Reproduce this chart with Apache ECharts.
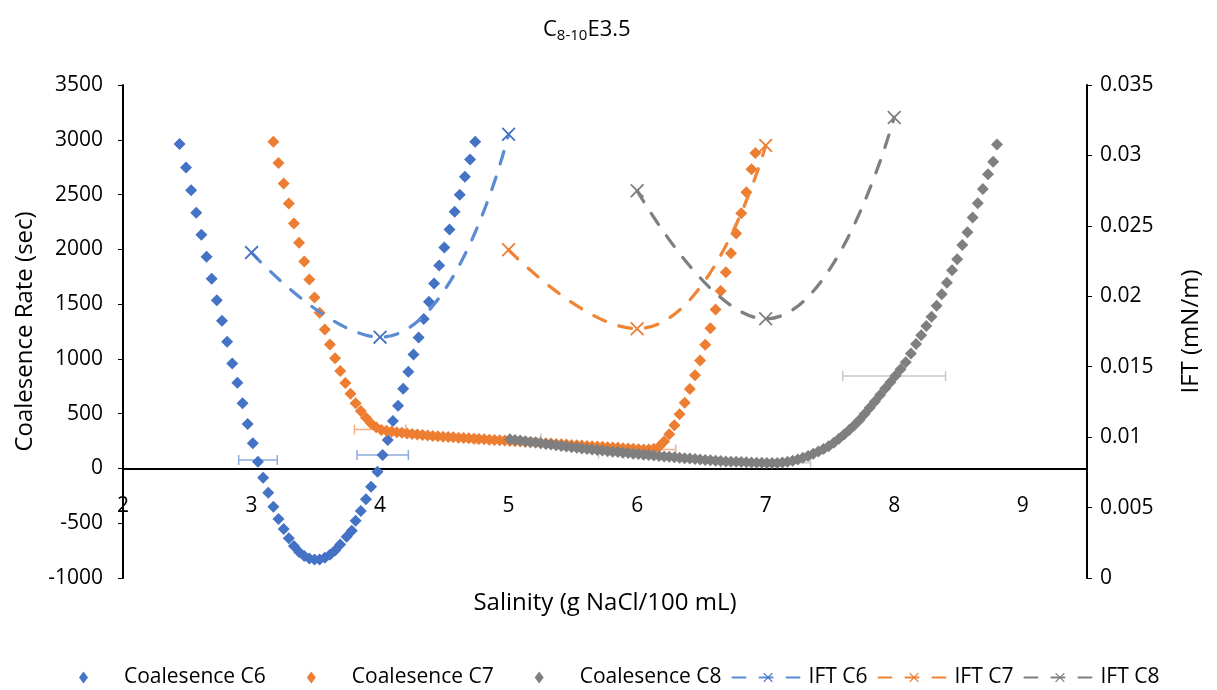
<!DOCTYPE html>
<html>
<head>
<meta charset="utf-8">
<script src="https://cdn.jsdelivr.net/npm/echarts@6/dist/echarts.min.js"></script>
<style>
html,body{margin:0;padding:0;background:#fff;}
#chart{width:1217px;height:690px;}
</style>
</head>
<body>
<div id="chart"></div>
<script>
// ---- Data ----
const xTicks = [2, 3, 4, 5, 6, 7, 8, 9];

const c6X = [2.44,2.49,2.53,2.57,2.61,2.65,2.69,2.73,2.77,2.81,2.85,2.89,2.93,2.97,3.01,3.05,3.09,3.13,3.17,3.21,3.25,3.29,3.33,3.37,3.41,3.45,3.49,3.53,3.57,3.61,3.65,3.69,3.74,3.78,3.81,3.85,3.89,3.93,3.98,4.02,4.06,4.10,4.14,4.18,4.22,4.26,4.30,4.34,4.38,4.42,4.46,4.50,4.54,4.58,4.62,4.66,4.70,4.74];
const c6Y = [2961,2747,2540,2333,2132,1932,1731,1536,1349,1156,959,782,594,405,229,61,-85,-222,-349,-462,-553,-638,-708,-762,-800,-823,-832,-830,-815,-788,-748,-695,-623,-568,-477,-389,-282,-167,-30,122,259,432,572,727,882,1041,1196,1365,1521,1689,1853,2017,2182,2342,2499,2662,2820,2981];

const c7X = [3.17,3.21,3.25,3.29,3.33,3.37,3.41,3.45,3.49,3.53,3.57,3.61,3.65,3.69,3.73,3.77,3.81,3.85,3.89,3.93,3.97,4.01,4.05,4.09,4.13,4.17,4.21,4.25,4.29,4.33,4.37,4.41,4.45,4.49,4.53,4.57,4.61,4.65,4.69,4.73,4.77,4.81,4.85,4.89,4.93,4.97,5.01,5.05,5.09,5.13,5.17,5.21,5.25,5.29,5.33,5.37,5.41,5.45,5.49,5.53,5.57,5.61,5.65,5.69,5.73,5.77,5.81,5.85,5.89,5.93,5.97,6.01,6.05,6.09,6.13,6.17,6.21,6.25,6.29,6.33,6.37,6.41,6.45,6.49,6.53,6.57,6.61,6.65,6.69,6.73,6.77,6.81,6.85,6.89,6.92];
const c7Y = [2981,2789,2601,2419,2236,2059,1889,1725,1561,1421,1269,1132,1005,889,779,682,594,524,463,411,375,352,343,337,331,325,320,315,310,305,301,297,293,290,287,284,281,278,275,272,269,266,263,260,257,254,251,248,245,242,239,236,233,230,227,224,221,218,215,212,209,206,203,200,197,194,191,188,185,182,179,176,174,174,180,198,245,312,395,495,600,725,850,985,1130,1280,1450,1620,1790,1965,2145,2330,2520,2730,2880];

const c8X = [5.01,5.05,5.09,5.13,5.17,5.21,5.25,5.29,5.33,5.37,5.41,5.45,5.49,5.53,5.57,5.61,5.65,5.69,5.73,5.77,5.81,5.85,5.89,5.93,5.97,6.01,6.05,6.09,6.13,6.17,6.21,6.25,6.29,6.33,6.37,6.41,6.45,6.49,6.53,6.57,6.61,6.65,6.69,6.73,6.77,6.81,6.85,6.89,6.93,6.97,7.01,7.05,7.09,7.13,7.17,7.21,7.25,7.29,7.33,7.37,7.41,7.45,7.49,7.53,7.57,7.61,7.65,7.69,7.73,7.77,7.81,7.85,7.89,7.93,7.97,8.01,8.05,8.09,8.13,8.17,8.21,8.25,8.29,8.33,8.37,8.41,8.45,8.49,8.53,8.57,8.61,8.65,8.69,8.73,8.77,8.80];
const c8Y = [266,260,254,248,242,236,230,224,218,212,206,200,194,188,183,178,173,168,163,158,153,149,144,140,135,131,126,122,118,114,110,106,102,98,94,90,86,82,78,74,70,67,64,62,60,58,56,54,52,51,50,50,50,54,61,70,82,97,114,133,155,178,202,235,270,309,350,394,443,497,553,611,670,729,787,845,905,970,1050,1135,1215,1300,1385,1485,1590,1695,1810,1910,2040,2155,2290,2420,2550,2685,2800,2957];

const iftC6X = [3, 4, 5];
const iftC6Y = [0.0231, 0.0171, 0.0315];
const iftC7X = [5, 6, 7];
const iftC7Y = [0.0233, 0.0177, 0.0307];
const iftC8X = [6, 7, 8];
const iftC8Y = [0.0275, 0.0184, 0.0327];

// horizontal error bars (x, y, +/- half width)
const errC6X = [3.05, 4.02];
const errC6Y = [77, 122];
const errC6E = [0.15, 0.2];
const errC7X = [4, 5, 6];
const errC7Y = [355, 262, 172];
const errC7E = [0.2, 0.25, 0.3];
const errC8X = [5, 6, 7, 8];
const errC8Y = [275, 135, 52, 843];
const errC8E = [0.25, 0.3, 0.35, 0.4];

const seriesNames = ['Coalesence C6','Coalesence C7','Coalesence C8','IFT C6','IFT C7','IFT C8'];

// ---- Chart ----
const zip = (a, b) => a.map((v, i) => [v, b[i]]);
const FONT = 'Open Sans';
const XSYM = 'path://M0,0.9L0.9,0L10,9.1L9.1,10Z M9.1,0L10,0.9L0.9,10L0,9.1Z';
// legend icon: small diamond centred in a wide (71x12) icon box
const DLEG = 'path://M35.5,0L40,6L35.5,12L31,6Z M0,6L0.001,6L0,6.001Z M71,6L70.999,6L71,6.001Z';

function errSeries(xs, ys, es, color) {
  return {
    type: 'custom', yAxisIndex: 0, silent: true, z: 1,
    encode: { x: 0, y: 1 },
    data: xs.map((x, i) => [x, ys[i], es[i]]),
    renderItem: function (params, api) {
      const x = api.value(0), y = api.value(1), e = api.value(2);
      const p1 = api.coord([x - e, y]);
      const p2 = api.coord([x + e, y]);
      const h = 5;
      const st = { stroke: color, lineWidth: 1.5, fill: null };
      return {
        type: 'group',
        children: [
          { type: 'line', shape: { x1: p1[0], y1: p1[1], x2: p2[0], y2: p2[1] }, style: st },
          { type: 'line', shape: { x1: p1[0], y1: p1[1] - h, x2: p1[0], y2: p1[1] + h }, style: st },
          { type: 'line', shape: { x1: p2[0], y1: p2[1] - h, x2: p2[0], y2: p2[1] + h }, style: st }
        ]
      };
    }
  };
}

function scatter(name, xs, ys, color) {
  return {
    name: name, type: 'scatter', yAxisIndex: 0, z: 2,
    symbol: 'diamond', symbolSize: 12,
    itemStyle: { color: color, opacity: 1 },
    data: zip(xs, ys)
  };
}

function ift(name, xs, ys, color, lineColor) {
  return {
    name: name, type: 'line', yAxisIndex: 1, z: 3, smooth: true,
    symbol: XSYM, symbolSize: 14, showSymbol: true,
    itemStyle: { color: color, opacity: 1 },
    lineStyle: { color: lineColor, width: 3.25, type: [13, 14], cap: 'round' },
    data: zip(xs, ys)
  };
}

const chart = echarts.init(document.getElementById('chart'));
const axisBlack = { color: '#000', width: 2 };
chart.setOption({
  animation: false,
  backgroundColor: '#fff',
  textStyle: { fontFamily: FONT, color: '#000' },
  title: {
    text: '{a|C}{b|8-10}{a|E3.5}',
    left: 538, top: 12,
    textStyle: {
      fontWeight: 'normal',
      rich: {
        a: { fontFamily: FONT, fontSize: 22, fontWeight: 'normal', lineHeight: 26, color: '#000', verticalAlign: 'middle' },
        b: { fontFamily: FONT, fontSize: 15, fontWeight: 'normal', lineHeight: 12, color: '#000', verticalAlign: 'bottom' }
      }
    }
  },
  grid: { left: 123, right: 130, top: 85, bottom: 112, outerBoundsMode: 'none', containLabel: false },
  legend: {
    data: [
      { name: seriesNames[0], icon: DLEG },
      { name: seriesNames[1], icon: DLEG },
      { name: seriesNames[2], icon: DLEG },
      { name: seriesNames[3] },
      { name: seriesNames[4] },
      { name: seriesNames[5] }
    ],
    top: 662, left: 43,
    itemWidth: 71, itemHeight: 12, itemGap: 10,
    symbolKeepAspect: false,
    textStyle: { fontFamily: FONT, fontSize: 21, color: '#000' }
  },
  xAxis: {
    type: 'value', min: 2, max: 9.5, interval: 1,
    name: 'Salinity (g NaCl/100 mL)', nameLocation: 'middle', nameGap: 13,
    nameMoveOverlap: false,
    nameTextStyle: { fontFamily: FONT, fontSize: 24, color: '#000' },
    axisLine: { onZero: true, onZeroAxisIndex: 0, lineStyle: axisBlack },
    axisTick: { show: false },
    axisLabel: { fontSize: 21, color: '#000', margin: -82, showMaxLabel: false,
      formatter: v => (xTicks.indexOf(v) >= 0 ? String(v) : '') },
    splitLine: { show: false }
  },
  yAxis: [
    {
      type: 'value', position: 'left', min: -1000, max: 3500, interval: 500,
      name: 'Coalesence Rate (sec)', nameLocation: 'middle', nameGap: 80,
      nameTextStyle: { fontFamily: FONT, fontSize: 24, color: '#000' },
      axisLine: { show: true, onZero: false, lineStyle: axisBlack },
      axisTick: { show: true, length: 5, lineStyle: { color: '#000' } },
      axisLabel: { fontSize: 21, color: '#000', margin: 20, formatter: v => String(v) },
      splitLine: { show: false }
    },
    {
      type: 'value', position: 'right', min: 0, max: 0.035, interval: 0.005,
      name: 'IFT (mN/m)', nameLocation: 'middle', nameGap: 92,
      nameTextStyle: { fontFamily: FONT, fontSize: 24, color: '#000' },
      axisLine: { show: true, onZero: false, lineStyle: axisBlack },
      axisTick: { show: true, length: 5, lineStyle: { color: '#000' } },
      axisLabel: { fontSize: 21, color: '#000', margin: 13,
        formatter: v => String(parseFloat(v.toFixed(3))) },
      splitLine: { show: false }
    }
  ],
  series: [
    errSeries(errC6X, errC6Y, errC6E, '#8faadc'),
    errSeries(errC7X, errC7Y, errC7E, '#f4b183'),
    errSeries(errC8X, errC8Y, errC8E, '#c9c9c9'),
    scatter(seriesNames[0], c6X, c6Y, '#4472c4'),
    scatter(seriesNames[1], c7X, c7Y, '#ed7d31'),
    scatter(seriesNames[2], c8X, c8Y, '#7f7f7f'),
    ift(seriesNames[3], iftC6X, iftC6Y, '#4472c4', '#5b8bd5'),
    ift(seriesNames[4], iftC7X, iftC7Y, '#ed7d31', '#f08536'),
    ift(seriesNames[5], iftC8X, iftC8Y, '#7f7f7f', '#7f7f7f')
  ]
});
</script>
</body>
</html>
